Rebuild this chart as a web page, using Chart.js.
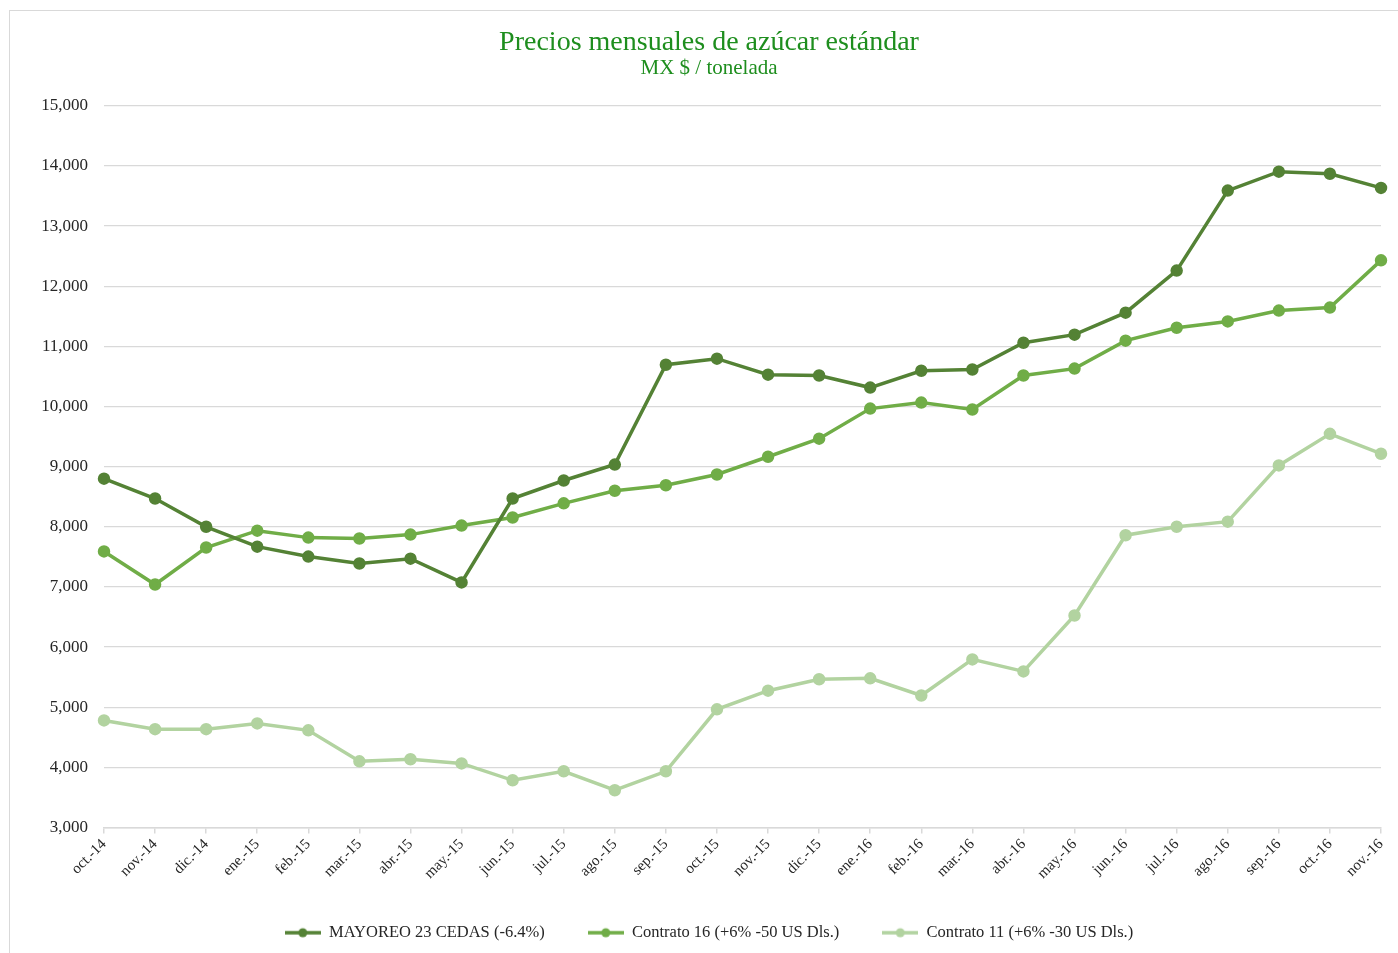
<!DOCTYPE html>
<html>
<head>
<meta charset="utf-8">
<script src="https://cdn.jsdelivr.net/npm/chart.js@4"></script>
<style>
  html, body { margin: 0; padding: 0; background: #fff; }
  #wrap { position: relative; width: 1398px; height: 953px; overflow: hidden; background: #fff; }
  #frame { position: absolute; left: 9px; top: 10px; width: 1420px; height: 980px; border: 1px solid #d9d9d9; box-sizing: border-box; }
  canvas { position: absolute; left: 0; top: 0; }
</style>
</head>
<body>
<div id="wrap">
  <div id="frame"></div>
  <canvas id="c" width="1398" height="953"></canvas>
</div>
<script>
const categories = ['oct.-14','nov.-14','dic.-14','ene.-15','feb.-15','mar.-15','abr.-15','may.-15','jun.-15','jul.-15','ago.-15','sep.-15','oct.-15','nov.-15','dic.-15','ene.-16','feb.-16','mar.-16','abr.-16','may.-16','jun.-16','jul.-16','ago.-16','sep.-16','oct.-16','nov.-16'];

const mayoreo = [8800, 8470, 8000, 7670, 7505, 7390, 7470, 7075, 8470, 8770, 9035, 10695, 10795, 10530, 10515, 10315, 10595, 10615, 11060, 11195, 11560, 12260, 13590, 13905, 13870, 13635];

const contrato16 = [7590, 7040, 7655, 7935, 7820, 7805, 7870, 8020, 8155, 8390, 8600, 8690, 8870, 9165, 9465, 9965, 10065, 9950, 10515, 10630, 11095, 11310, 11415, 11595, 11645, 12430];

const contrato11 = [4780, 4635, 4635, 4730, 4615, 4100, 4135, 4065, 3785, 3935, 3620, 3935, 4965, 5275, 5465, 5480, 5195, 5795, 5595, 6525, 7860, 8000, 8085, 9020, 9545, 9215];

const seriesNames = ['MAYOREO 23 CEDAS (-6.4%)', 'Contrato 16 (+6% -50 US Dls.)', 'Contrato 11 (+6% -30 US Dls.)'];
const yTicks = { min: 3000, max: 15000, step: 1000 };

const colors = ['#548235', '#70AD47', '#B2D3A0'];
const FONT = "'Liberation Serif', 'DejaVu Serif', serif";

function legendIcon(color) {
  const cv = document.createElement('canvas');
  cv.width = 36; cv.height = 12;
  const g = cv.getContext('2d');
  g.strokeStyle = color; g.lineWidth = 3.5;
  g.beginPath(); g.moveTo(0, 6); g.lineTo(36, 6); g.stroke();
  g.fillStyle = color;
  g.beginPath(); g.arc(18, 6, 4.5, 0, Math.PI * 2); g.fill();
  return cv;
}
const icons = colors.map(legendIcon);

function ds(label, data, color) {
  return {
    label, data,
    borderColor: color, backgroundColor: color,
    pointBackgroundColor: color, pointBorderColor: color,
    borderWidth: 3.5, pointRadius: 4.5, pointHoverRadius: 4.5,
    tension: 0, fill: false
  };
}

new Chart(document.getElementById('c'), {
  type: 'line',
  data: {
    labels: categories,
    datasets: [
      ds(seriesNames[0], mayoreo, colors[0]),
      ds(seriesNames[1], contrato16, colors[1]),
      ds(seriesNames[2], contrato11, colors[2])
    ]
  },
  options: {
    responsive: false,
    animation: false,
    devicePixelRatio: 1,
    layout: { padding: { left: 37, right: 17, top: 0, bottom: 2 } },
    plugins: {
      title: {
        display: true,
        text: 'Precios mensuales de azúcar estándar',
        color: '#1E8E1E',
        font: { family: FONT, size: 28, weight: 'normal', lineHeight: 1.1 },
        padding: { top: 27, bottom: 0 }
      },
      subtitle: {
        display: true,
        text: 'MX $ / tonelada',
        color: '#1E8E1E',
        font: { family: FONT, size: 21, weight: 'normal', lineHeight: 1.0 },
        padding: { top: 0, bottom: 27 }
      },
      legend: {
        position: 'bottom',
        labels: {
          color: '#262626',
          font: { family: FONT, size: 16.5 },
          usePointStyle: true,
          pointStyleWidth: 36,
          padding: 43,
          generateLabels(chart) {
            return chart.data.datasets.map((d, i) => ({
              text: d.label,
              pointStyle: icons[i],
              fillStyle: d.borderColor,
              strokeStyle: d.borderColor,
              lineWidth: 0,
              hidden: false,
              datasetIndex: i,
              fontColor: '#262626'
            }));
          }
        }
      },
      tooltip: { enabled: false }
    },
    scales: {
      x: {
        offset: false,
        grid: { display: true, drawOnChartArea: false, drawTicks: true, tickLength: 6, color: '#d9d9d9', lineWidth: 1.5 },
        border: { display: true, color: '#d9d9d9', width: 1.5 },
        ticks: {
          autoSkip: false, minRotation: 45, maxRotation: 45, padding: 2,
          color: '#262626', font: { family: FONT, size: 15 }
        },
        afterFit(scale) { scale.height = 54; }
      },
      y: {
        min: yTicks.min, max: yTicks.max,
        grid: { color: '#d9d9d9', lineWidth: 1.2, drawTicks: false },
        border: { display: false },
        ticks: {
          stepSize: yTicks.step, padding: 16,
          color: '#262626', font: { family: FONT, size: 17 },
          callback: v => v.toLocaleString('en-US')
        },
        afterFit(scale) { scale.width = 67; }
      }
    }
  }
});
</script>
</body>
</html>
